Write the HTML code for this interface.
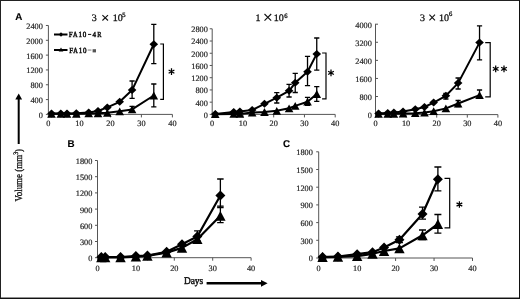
<!DOCTYPE html>
<html><head><meta charset="utf-8">
<style>
html,body{margin:0;padding:0;background:#fff;}
body{width:520px;height:299px;overflow:hidden;}
svg{display:block;will-change:transform;}
</style></head><body>
<svg width="520" height="299" viewBox="0 0 520 299" text-rendering="geometricPrecision">
<rect x="0" y="0" width="520" height="299" fill="#fff"/>
<rect x="0.5" y="0.5" width="519" height="297.5" fill="none" stroke="#222" stroke-width="1"/>
<line x1="0" y1="298.5" x2="520" y2="298.5" stroke="#111" stroke-width="1"/>
<line x1="519.5" y1="0" x2="519.5" y2="299" stroke="#111" stroke-width="1"/>
<!-- panel letters -->
<g font-family="'Liberation Sans', sans-serif" font-weight="bold" font-size="9.8" fill="#000" stroke="#000" stroke-width="0.15">
<text x="15.2" y="20.4">A</text>
<text x="67.4" y="147.3">B</text>
<text x="282.9" y="147.3">C</text>
</g>
<!-- titles -->
<g font-family="'Liberation Serif', serif" font-size="10" fill="#111" stroke="#111" stroke-width="0.3">
<text x="91.8" y="20.6">3</text><text x="112.8" y="20.6">10</text><text x="122.2" y="17.1" font-size="6.6">5</text>
<text x="255.4" y="20.5">1</text><text x="273.8" y="20.5">10</text><text x="284.2" y="17.8" font-size="6.6">6</text>
<text x="420.1" y="20.6">3</text><text x="439.0" y="20.6">10</text><text x="448.9" y="16.2" font-size="6.6">6</text>
</g>
<g stroke="#111" stroke-width="1.1" fill="none">
<path d="M102.4 15.1L108 20.5M108 15.1L102.4 20.5"/>
<path d="M264.5 14L271.2 20.6M271.2 14L264.5 20.6"/>
<path d="M429.4 14.7L435 20.3M435 14.7L429.4 20.3"/>
</g>
<!-- legend -->
<g stroke="#000" stroke-width="2.0"><line x1="54" y1="34.5" x2="67.5" y2="34.5"/><line x1="54" y1="50" x2="67.5" y2="50"/></g>
<path d="M61 32.3L63.2 34.5L61 36.7L58.8 34.5Z" fill="#000"/>
<path d="M61 47.6L63.3 51.4L58.7 51.4Z" fill="#000"/>
<g font-family="'Liberation Serif', serif" font-size="7.8" fill="#111" stroke="#111" stroke-width="0.5" text-anchor="middle">
<text transform="translate(70.8,36.9) scale(0.9,1)">F</text>
<text transform="translate(75.3,36.9) scale(0.8,1)">A</text>
<text transform="translate(80.3,36.9) scale(0.9,1)">1</text>
<text transform="translate(84.5,36.9) scale(0.9,1)">0</text>
<text transform="translate(94.3,36.9) scale(0.9,1)">4</text>
<text transform="translate(99.3,36.9) scale(0.8,1)">R</text>
<text transform="translate(71.1,52.6) scale(0.9,1)">F</text>
<text transform="translate(75.6,52.6) scale(0.8,1)">A</text>
<text transform="translate(80.5,52.6) scale(0.9,1)">1</text>
<text transform="translate(84.7,52.6) scale(0.9,1)">0</text>
</g>
<rect x="88" y="33.9" width="3.2" height="1.1" fill="#222"/>
<rect x="87.7" y="49.5" width="3.7" height="1.1" fill="#888"/>
<rect x="92.6" y="49.2" width="3.4" height="3.2" fill="#555"/>
<g stroke="#555" stroke-width="1" fill="none">
<path d="M48.4 25.48V114.4"/>
<path d="M48.4 114.4H172.4"/>
<path d="M45.9 114.4H48.4"/>
<path d="M45.9 99.58H48.4"/>
<path d="M45.9 84.76H48.4"/>
<path d="M45.9 69.94H48.4"/>
<path d="M45.9 55.12H48.4"/>
<path d="M45.9 40.3H48.4"/>
<path d="M45.9 25.48H48.4"/>
<path d="M48.4 114.4V117.4"/>
<path d="M79.4 114.4V117.4"/>
<path d="M110.4 114.4V117.4"/>
<path d="M141.4 114.4V117.4"/>
<path d="M172.4 114.4V117.4"/>
</g>
<g font-family='Liberation Serif, serif' font-size="8.3" fill="#222" stroke="#222" stroke-width="0.2">
<text x="42.9" y="117.8" text-anchor="end">0</text>
<text x="42.9" y="102.98" text-anchor="end">400</text>
<text x="42.9" y="88.16" text-anchor="end">800</text>
<text x="42.9" y="73.34" text-anchor="end">1200</text>
<text x="42.9" y="58.52" text-anchor="end">1600</text>
<text x="42.9" y="43.7" text-anchor="end">2000</text>
<text x="42.9" y="28.88" text-anchor="end">2400</text>
<text x="48.4" y="126.3" text-anchor="middle">0</text>
<text x="79.4" y="126.3" text-anchor="middle">10</text>
<text x="110.4" y="126.3" text-anchor="middle">20</text>
<text x="141.4" y="126.3" text-anchor="middle">30</text>
<text x="172.4" y="126.3" text-anchor="middle">40</text>
</g>
<path d="M51.5 113.8 L60.8 113.8 L67 113.8 L76.3 113.8 L88.7 113.4 L98 113.3 L107.3 112.8 L119.7 111.3 L132.1 109.4 L153.8 95.5" fill="none" stroke="#000" stroke-width="2.0" stroke-linejoin="round"/>
<path d="M51.5 113.5 L60.8 113.5 L67 113.4 L76.3 113.3 L88.7 112.4 L98 111 L107.3 107.4 L119.7 101.8 L132.1 90.1 L153.8 44.3" fill="none" stroke="#000" stroke-width="2.0" stroke-linejoin="round"/>
<g stroke="#000" stroke-width="1.3" fill="none">
<path d="M132.1 106.4V112.4 M129.5 106.4H134.7 M129.5 112.4H134.7"/>
<path d="M153.8 84V106.8 M151.2 84H156.4 M151.2 106.8H156.4"/>
<path d="M132.1 81V98.3 M129.5 81H134.7 M129.5 98.3H134.7"/>
<path d="M153.8 24.3V63.6 M151.2 24.3H156.4 M151.2 63.6H156.4"/>
</g>
<g fill="#000">
<path d="M51.5 109.5L55.8 113.5L51.5 117.5L47.2 113.5Z"/>
<path d="M60.8 109.5L65.1 113.5L60.8 117.5L56.5 113.5Z"/>
<path d="M67 109.4L71.3 113.4L67 117.4L62.7 113.4Z"/>
<path d="M76.3 109.3L80.6 113.3L76.3 117.3L72 113.3Z"/>
<path d="M88.7 108.4L93 112.4L88.7 116.4L84.4 112.4Z"/>
<path d="M98 107L102.3 111L98 115L93.7 111Z"/>
<path d="M107.3 103.4L111.6 107.4L107.3 111.4L103 107.4Z"/>
<path d="M119.7 97.8L124 101.8L119.7 105.8L115.4 101.8Z"/>
<path d="M132.1 86.1L136.4 90.1L132.1 94.1L127.8 90.1Z"/>
<path d="M153.8 40.3L158.1 44.3L153.8 48.3L149.5 44.3Z"/>
<path d="M51.5 109.9L55.8 117.7L47.2 117.7Z"/>
<path d="M60.8 109.9L65.1 117.7L56.5 117.7Z"/>
<path d="M67 109.9L71.3 117.7L62.7 117.7Z"/>
<path d="M76.3 109.9L80.6 117.7L72 117.7Z"/>
<path d="M88.7 109.5L93 117.3L84.4 117.3Z"/>
<path d="M98 109.4L102.3 117.2L93.7 117.2Z"/>
<path d="M107.3 108.9L111.6 116.7L103 116.7Z"/>
<path d="M119.7 107.4L124 115.2L115.4 115.2Z"/>
<path d="M132.1 105.5L136.4 113.3L127.8 113.3Z"/>
<path d="M153.8 91.6L158.1 99.4L149.5 99.4Z"/>
</g>
<path d="M160.2 44H163.4V99.3H160.2" fill="none" stroke="#000" stroke-width="1.2"/>
<path d="M171.5 68.3L171.5 74.9M168.64 69.95L174.36 73.25M174.36 69.95L168.64 73.25" stroke="#000" stroke-width="1.25" fill="none"/>
<g stroke="#555" stroke-width="1" fill="none">
<path d="M212.2 28.79V114.4"/>
<path d="M212.2 114.4H335.2"/>
<path d="M209.7 114.4H212.2"/>
<path d="M209.7 102.17H212.2"/>
<path d="M209.7 89.94H212.2"/>
<path d="M209.7 77.71H212.2"/>
<path d="M209.7 65.48H212.2"/>
<path d="M209.7 53.25H212.2"/>
<path d="M209.7 41.02H212.2"/>
<path d="M209.7 28.79H212.2"/>
<path d="M212.2 114.4V117.4"/>
<path d="M242.95 114.4V117.4"/>
<path d="M273.7 114.4V117.4"/>
<path d="M304.45 114.4V117.4"/>
<path d="M335.2 114.4V117.4"/>
</g>
<g font-family='Liberation Serif, serif' font-size="8.3" fill="#222" stroke="#222" stroke-width="0.2">
<text x="207.9" y="117.8" text-anchor="end">0</text>
<text x="207.9" y="105.57" text-anchor="end">400</text>
<text x="207.9" y="93.34" text-anchor="end">800</text>
<text x="207.9" y="81.11" text-anchor="end">1200</text>
<text x="207.9" y="68.88" text-anchor="end">1600</text>
<text x="207.9" y="56.65" text-anchor="end">2000</text>
<text x="207.9" y="44.42" text-anchor="end">2400</text>
<text x="207.9" y="32.19" text-anchor="end">2800</text>
<text x="212.2" y="126.3" text-anchor="middle">0</text>
<text x="242.95" y="126.3" text-anchor="middle">10</text>
<text x="273.7" y="126.3" text-anchor="middle">20</text>
<text x="304.45" y="126.3" text-anchor="middle">30</text>
<text x="335.2" y="126.3" text-anchor="middle">40</text>
</g>
<path d="M215.27 114.2 L233.72 113.9 L239.88 113.9 L252.17 112.6 L264.48 112 L276.77 110.8 L289.07 108.3 L295.23 105.9 L307.52 101.7 L316.75 94" fill="none" stroke="#000" stroke-width="2.0" stroke-linejoin="round"/>
<path d="M215.27 114 L233.72 111.9 L239.88 111.4 L252.17 110 L264.48 103.8 L276.77 97.7 L289.07 90.8 L295.23 82.8 L307.52 71.8 L316.75 53.9" fill="none" stroke="#000" stroke-width="2.0" stroke-linejoin="round"/>
<g stroke="#000" stroke-width="1.3" fill="none">
<path d="M307.52 97.3V105.4 M304.92 97.3H310.12 M304.92 105.4H310.12"/>
<path d="M316.75 86.6V101.3 M314.15 86.6H319.35 M314.15 101.3H319.35"/>
<path d="M276.77 92.6V103 M274.17 92.6H279.38 M274.17 103H279.38"/>
<path d="M289.07 84.3V97 M286.47 84.3H291.68 M286.47 97H291.68"/>
<path d="M295.23 73.3V92.5 M292.62 73.3H297.83 M292.62 92.5H297.83"/>
<path d="M307.52 56.3V85.7 M304.92 56.3H310.12 M304.92 85.7H310.12"/>
<path d="M316.75 38V70.1 M314.15 38H319.35 M314.15 70.1H319.35"/>
</g>
<g fill="#000">
<path d="M215.27 110L219.57 114L215.27 118L210.97 114Z"/>
<path d="M233.72 107.9L238.03 111.9L233.72 115.9L229.42 111.9Z"/>
<path d="M239.88 107.4L244.18 111.4L239.88 115.4L235.57 111.4Z"/>
<path d="M252.17 106L256.47 110L252.17 114L247.87 110Z"/>
<path d="M264.48 99.8L268.78 103.8L264.48 107.8L260.18 103.8Z"/>
<path d="M276.77 93.7L281.07 97.7L276.77 101.7L272.47 97.7Z"/>
<path d="M289.07 86.8L293.38 90.8L289.07 94.8L284.77 90.8Z"/>
<path d="M295.23 78.8L299.53 82.8L295.23 86.8L290.93 82.8Z"/>
<path d="M307.52 67.8L311.82 71.8L307.52 75.8L303.22 71.8Z"/>
<path d="M316.75 49.9L321.05 53.9L316.75 57.9L312.45 53.9Z"/>
<path d="M215.27 110.3L219.57 118.1L210.97 118.1Z"/>
<path d="M233.72 110L238.03 117.8L229.42 117.8Z"/>
<path d="M239.88 110L244.18 117.8L235.57 117.8Z"/>
<path d="M252.17 108.7L256.47 116.5L247.87 116.5Z"/>
<path d="M264.48 108.1L268.78 115.9L260.18 115.9Z"/>
<path d="M276.77 106.9L281.07 114.7L272.47 114.7Z"/>
<path d="M289.07 104.4L293.38 112.2L284.77 112.2Z"/>
<path d="M295.23 102L299.53 109.8L290.93 109.8Z"/>
<path d="M307.52 97.8L311.82 105.6L303.22 105.6Z"/>
<path d="M316.75 90.1L321.05 97.9L312.45 97.9Z"/>
</g>
<path d="M322.1 53H326V98.8H322.1" fill="none" stroke="#000" stroke-width="1.2"/>
<path d="M331 69.6L331 76.2M328.14 71.25L333.86 74.55M333.86 71.25L328.14 74.55" stroke="#000" stroke-width="1.25" fill="none"/>
<g stroke="#555" stroke-width="1" fill="none">
<path d="M375.5 24.2V114.6"/>
<path d="M375.5 114.6H497.9"/>
<path d="M375 114.6H378"/>
<path d="M375 96.52H378"/>
<path d="M375 78.44H378"/>
<path d="M375 60.36H378"/>
<path d="M375 42.28H378"/>
<path d="M375 24.2H378"/>
<path d="M375.5 114.6V117.6"/>
<path d="M406.1 114.6V117.6"/>
<path d="M436.7 114.6V117.6"/>
<path d="M467.3 114.6V117.6"/>
<path d="M497.9 114.6V117.6"/>
</g>
<g font-family='Liberation Serif, serif' font-size="8.3" fill="#222" stroke="#222" stroke-width="0.2">
<text x="371.9" y="118" text-anchor="end">0</text>
<text x="371.9" y="99.92" text-anchor="end">800</text>
<text x="371.9" y="81.84" text-anchor="end">1600</text>
<text x="371.9" y="63.76" text-anchor="end">2400</text>
<text x="371.9" y="45.68" text-anchor="end">3200</text>
<text x="371.9" y="27.6" text-anchor="end">4000</text>
<text x="375.5" y="126.3" text-anchor="middle">0</text>
<text x="406.1" y="126.3" text-anchor="middle">10</text>
<text x="436.7" y="126.3" text-anchor="middle">20</text>
<text x="467.3" y="126.3" text-anchor="middle">30</text>
<text x="497.9" y="126.3" text-anchor="middle">40</text>
</g>
<path d="M378.56 113.8 L387.74 113.8 L393.86 113.8 L403.04 113.6 L415.28 113.2 L424.46 112.6 L433.64 111.2 L445.88 108.4 L458.12 103.5 L479.54 95.1" fill="none" stroke="#000" stroke-width="2.0" stroke-linejoin="round"/>
<path d="M378.56 113.4 L387.74 113 L393.86 112.6 L403.04 111.6 L415.28 109.2 L424.46 107 L433.64 102.6 L445.88 95.8 L458.12 83.1 L479.54 42.6" fill="none" stroke="#000" stroke-width="2.0" stroke-linejoin="round"/>
<g stroke="#000" stroke-width="1.3" fill="none">
<path d="M458.12 100.5V106.6 M455.52 100.5H460.72 M455.52 106.6H460.72"/>
<path d="M479.54 90V97.8 M476.94 90H482.14 M476.94 97.8H482.14"/>
<path d="M445.88 93.5V99 M443.28 93.5H448.48 M443.28 99H448.48"/>
<path d="M458.12 78V89 M455.52 78H460.72 M455.52 89H460.72"/>
<path d="M479.54 25.9V59.8 M476.94 25.9H482.14 M476.94 59.8H482.14"/>
</g>
<g fill="#000">
<path d="M378.56 109.4L382.86 113.4L378.56 117.4L374.26 113.4Z"/>
<path d="M387.74 109L392.04 113L387.74 117L383.44 113Z"/>
<path d="M393.86 108.6L398.16 112.6L393.86 116.6L389.56 112.6Z"/>
<path d="M403.04 107.6L407.34 111.6L403.04 115.6L398.74 111.6Z"/>
<path d="M415.28 105.2L419.58 109.2L415.28 113.2L410.98 109.2Z"/>
<path d="M424.46 103L428.76 107L424.46 111L420.16 107Z"/>
<path d="M433.64 98.6L437.94 102.6L433.64 106.6L429.34 102.6Z"/>
<path d="M445.88 91.8L450.18 95.8L445.88 99.8L441.58 95.8Z"/>
<path d="M458.12 79.1L462.42 83.1L458.12 87.1L453.82 83.1Z"/>
<path d="M479.54 38.6L483.84 42.6L479.54 46.6L475.24 42.6Z"/>
<path d="M378.56 109.9L382.86 117.7L374.26 117.7Z"/>
<path d="M387.74 109.9L392.04 117.7L383.44 117.7Z"/>
<path d="M393.86 109.9L398.16 117.7L389.56 117.7Z"/>
<path d="M403.04 109.7L407.34 117.5L398.74 117.5Z"/>
<path d="M415.28 109.3L419.58 117.1L410.98 117.1Z"/>
<path d="M424.46 108.7L428.76 116.5L420.16 116.5Z"/>
<path d="M433.64 107.3L437.94 115.1L429.34 115.1Z"/>
<path d="M445.88 104.5L450.18 112.3L441.58 112.3Z"/>
<path d="M458.12 99.6L462.42 107.4L453.82 107.4Z"/>
<path d="M479.54 91.2L483.84 99L475.24 99Z"/>
</g>
<path d="M485.2 42.6H490.2V96.8H485.2" fill="none" stroke="#000" stroke-width="1.2"/>
<path d="M495.7 65.6L495.7 72.2M492.84 67.25L498.56 70.55M498.56 67.25L492.84 70.55" stroke="#000" stroke-width="1.25" fill="none"/>
<path d="M504 65.6L504 72.2M501.14 67.25L506.86 70.55M506.86 67.25L501.14 70.55" stroke="#000" stroke-width="1.25" fill="none"/>
<g stroke="#555" stroke-width="1" fill="none">
<path d="M97.5 160.5V257.7"/>
<path d="M97.5 257.7H251.1"/>
<path d="M95 257.7H97.5"/>
<path d="M95 241.5H97.5"/>
<path d="M95 225.3H97.5"/>
<path d="M95 209.1H97.5"/>
<path d="M95 192.9H97.5"/>
<path d="M95 176.7H97.5"/>
<path d="M95 160.5H97.5"/>
<path d="M97.5 257.7V260.7"/>
<path d="M135.9 257.7V260.7"/>
<path d="M174.3 257.7V260.7"/>
<path d="M212.7 257.7V260.7"/>
<path d="M251.1 257.7V260.7"/>
</g>
<g font-family='Liberation Serif, serif' font-size="8.3" fill="#222" stroke="#222" stroke-width="0.2">
<text x="92.4" y="261.1" text-anchor="end">0</text>
<text x="92.4" y="244.9" text-anchor="end">300</text>
<text x="92.4" y="228.7" text-anchor="end">600</text>
<text x="92.4" y="212.5" text-anchor="end">900</text>
<text x="92.4" y="196.3" text-anchor="end">1200</text>
<text x="92.4" y="180.1" text-anchor="end">1500</text>
<text x="92.4" y="163.9" text-anchor="end">1800</text>
<text x="97.5" y="270.8" text-anchor="middle">0</text>
<text x="135.9" y="270.8" text-anchor="middle">10</text>
<text x="174.3" y="270.8" text-anchor="middle">20</text>
<text x="212.7" y="270.8" text-anchor="middle">30</text>
<text x="251.1" y="270.8" text-anchor="middle">40</text>
</g>
<path d="M101.34 257.4 L105.18 257.4 L120.54 257.3 L135.9 256.6 L147.42 255.9 L166.62 252.6 L181.98 247.9 L197.34 239.2 L220.38 215.8" fill="none" stroke="#000" stroke-width="2.2" stroke-linejoin="round"/>
<path d="M101.34 257 L105.18 257 L120.54 257 L135.9 256 L147.42 255.5 L166.62 251.8 L181.98 244.3 L197.34 236.5 L220.38 195.5" fill="none" stroke="#000" stroke-width="2.2" stroke-linejoin="round"/>
<g stroke="#000" stroke-width="1.3" fill="none">
<path d="M220.38 206.1V222.6 M217.13 206.1H223.63 M217.13 222.6H223.63"/>
<path d="M197.34 230.8V241 M194.09 230.8H200.59 M194.09 241H200.59"/>
<path d="M220.38 179V207.5 M217.13 179H223.63 M217.13 207.5H223.63"/>
</g>
<g fill="#000">
<path d="M101.34 252L106.34 257L101.34 262L96.34 257Z"/>
<path d="M105.18 252L110.18 257L105.18 262L100.18 257Z"/>
<path d="M120.54 252L125.54 257L120.54 262L115.54 257Z"/>
<path d="M135.9 251L140.9 256L135.9 261L130.9 256Z"/>
<path d="M147.42 250.5L152.42 255.5L147.42 260.5L142.42 255.5Z"/>
<path d="M166.62 246.8L171.62 251.8L166.62 256.8L161.62 251.8Z"/>
<path d="M181.98 239.3L186.98 244.3L181.98 249.3L176.98 244.3Z"/>
<path d="M197.34 231.5L202.34 236.5L197.34 241.5L192.34 236.5Z"/>
<path d="M220.38 190.5L225.38 195.5L220.38 200.5L215.38 195.5Z"/>
<path d="M101.34 252.5L106.54 262.3L96.14 262.3Z"/>
<path d="M105.18 252.5L110.38 262.3L99.98 262.3Z"/>
<path d="M120.54 252.4L125.74 262.2L115.34 262.2Z"/>
<path d="M135.9 251.7L141.1 261.5L130.7 261.5Z"/>
<path d="M147.42 251L152.62 260.8L142.22 260.8Z"/>
<path d="M166.62 247.7L171.82 257.5L161.42 257.5Z"/>
<path d="M181.98 243L187.18 252.8L176.78 252.8Z"/>
<path d="M197.34 234.3L202.54 244.1L192.14 244.1Z"/>
<path d="M220.38 210.9L225.58 220.7L215.18 220.7Z"/>
</g>
<g stroke="#555" stroke-width="1" fill="none">
<path d="M318.7 151.8V258"/>
<path d="M318.7 258H472.5"/>
<path d="M316.2 258H318.7"/>
<path d="M316.2 240.3H318.7"/>
<path d="M316.2 222.6H318.7"/>
<path d="M316.2 204.9H318.7"/>
<path d="M316.2 187.2H318.7"/>
<path d="M316.2 169.5H318.7"/>
<path d="M316.2 151.8H318.7"/>
<path d="M318.7 258V261"/>
<path d="M357.15 258V261"/>
<path d="M395.6 258V261"/>
<path d="M434.05 258V261"/>
<path d="M472.5 258V261"/>
</g>
<g font-family='Liberation Serif, serif' font-size="8.3" fill="#222" stroke="#222" stroke-width="0.2">
<text x="312.9" y="261.4" text-anchor="end">0</text>
<text x="312.9" y="243.7" text-anchor="end">300</text>
<text x="312.9" y="226" text-anchor="end">600</text>
<text x="312.9" y="208.3" text-anchor="end">900</text>
<text x="312.9" y="190.6" text-anchor="end">1200</text>
<text x="312.9" y="172.9" text-anchor="end">1500</text>
<text x="312.9" y="155.2" text-anchor="end">1800</text>
<text x="318.7" y="270.9" text-anchor="middle">0</text>
<text x="357.15" y="270.9" text-anchor="middle">10</text>
<text x="395.6" y="270.9" text-anchor="middle">20</text>
<text x="434.05" y="270.9" text-anchor="middle">30</text>
<text x="472.5" y="270.9" text-anchor="middle">40</text>
</g>
<path d="M322.55 257.2 L337.93 256.8 L357.15 256.2 L372.53 253.8 L384.06 251 L399.44 248.4 L422.51 235.3 L437.89 224" fill="none" stroke="#000" stroke-width="2.2" stroke-linejoin="round"/>
<path d="M322.55 257 L337.93 256.5 L357.15 254.2 L372.53 252.2 L384.06 247.6 L399.44 239.7 L422.51 214 L437.89 179.2" fill="none" stroke="#000" stroke-width="2.2" stroke-linejoin="round"/>
<g stroke="#000" stroke-width="1.3" fill="none">
<path d="M422.51 230V239.6 M419.01 230H426.01 M419.01 239.6H426.01"/>
<path d="M437.89 214.5V233.2 M434.39 214.5H441.39 M434.39 233.2H441.39"/>
<path d="M399.44 236.8V242.6 M395.94 236.8H402.94 M395.94 242.6H402.94"/>
<path d="M422.51 207.2V219.2 M419.01 207.2H426.01 M419.01 219.2H426.01"/>
<path d="M437.89 167V190.9 M434.39 167H441.39 M434.39 190.9H441.39"/>
</g>
<g fill="#000">
<path d="M322.55 252L327.55 257L322.55 262L317.55 257Z"/>
<path d="M337.93 251.5L342.93 256.5L337.93 261.5L332.93 256.5Z"/>
<path d="M357.15 249.2L362.15 254.2L357.15 259.2L352.15 254.2Z"/>
<path d="M372.53 247.2L377.53 252.2L372.53 257.2L367.53 252.2Z"/>
<path d="M384.06 242.6L389.06 247.6L384.06 252.6L379.06 247.6Z"/>
<path d="M399.44 234.7L404.44 239.7L399.44 244.7L394.44 239.7Z"/>
<path d="M422.51 209L427.51 214L422.51 219L417.51 214Z"/>
<path d="M437.89 174.2L442.89 179.2L437.89 184.2L432.89 179.2Z"/>
<path d="M322.55 252.3L327.75 262.1L317.35 262.1Z"/>
<path d="M337.93 251.9L343.12 261.7L332.73 261.7Z"/>
<path d="M357.15 251.3L362.35 261.1L351.95 261.1Z"/>
<path d="M372.53 248.9L377.73 258.7L367.33 258.7Z"/>
<path d="M384.06 246.1L389.26 255.9L378.87 255.9Z"/>
<path d="M399.44 243.5L404.64 253.3L394.25 253.3Z"/>
<path d="M422.51 230.4L427.71 240.2L417.31 240.2Z"/>
<path d="M437.89 219.1L443.09 228.9L432.69 228.9Z"/>
</g>
<path d="M444.5 178.4H449.7V227.8H444.5" fill="none" stroke="#000" stroke-width="1.2"/>
<path d="M459.4 201.2L459.4 207.8M456.54 202.85L462.26 206.15M462.26 202.85L456.54 206.15" stroke="#000" stroke-width="1.25" fill="none"/>
<!-- y arrow -->
<line x1="18.7" y1="98" x2="18.7" y2="144" stroke="#000" stroke-width="2"/>
<path d="M18.7 93.4L22.1 99.6L15.3 99.6Z" fill="#000"/>
<text transform="translate(22.4,201.6) rotate(-90) scale(0.86,1)" font-family="'Liberation Serif', serif" font-size="10.4" fill="#111" stroke="#111" stroke-width="0.35">Volume (mm<tspan font-size="6.8" dy="-4">3</tspan><tspan dy="4">)</tspan></text>
<!-- x arrow -->
<text transform="translate(183.9,284.4) scale(0.9,1)" font-family="'Liberation Serif', serif" font-size="10.4" fill="#111" stroke="#111" stroke-width="0.45">Days</text>
<line x1="206.6" y1="283.3" x2="262" y2="283.3" stroke="#000" stroke-width="2.4"/>
<path d="M267.6 283.3L261 279.9L261 286.7Z" fill="#000"/>
</svg>
</body></html>
